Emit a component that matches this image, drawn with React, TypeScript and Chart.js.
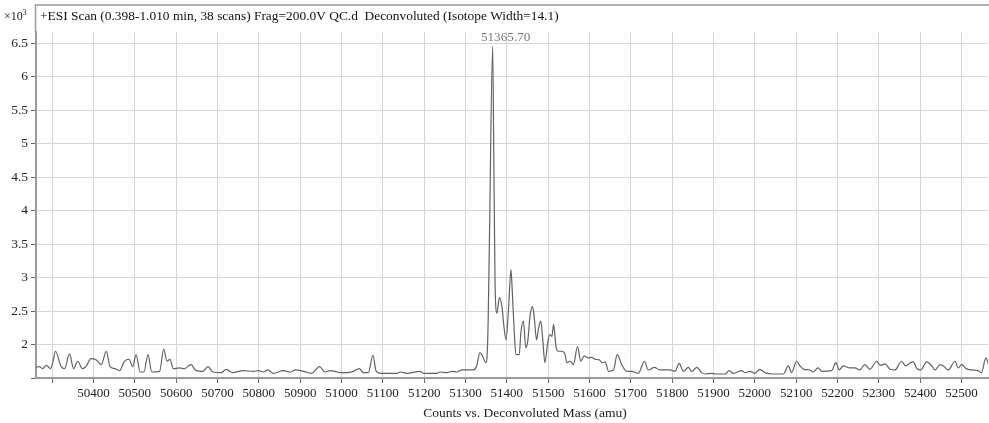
import React, { useEffect, useRef } from "react";
import { Chart, registerables } from "chart.js";

Chart.register(...registerables);

const masses: number[] = [50261,50269,50277,50286,50296,50302,50308,50322,50330,50342,50352,50362,50373,50382,50394,50407,50419,50431,50440,50451,50463,50475,50486,50495,50503,50513,50522,50532,50541,50560,50570,50578,50585,50593,50608,50620,50636,50648,50665,50677,50689,50709,50721,50737,50762,50787,50799,50811,50822,50835,50859,50876,50888,50908,50928,50947,50960,50972,50989,50997,51013,51029,51043,51053,51065,51076,51084,51097,51134,51142,51158,51190,51198,51230,51238,51255,51267,51279,51291,51319,51327,51335,51341,51349,51353,51355,51358,51365.7,51368.5,51371.5,51376,51382,51388,51393,51398,51404,51410,51413,51418,51422,51430,51434,51440,51446,51451,51456,51462,51466,51472,51476,51482,51487,51492,51499,51504,51509,51513,51519,51525,51533,51541,51545,51553,51561,51571,51579,51587,51597,51605,51613,51624,51630,51638,51646,51658,51667,51678,51690,51702,51718,51733,51742,51757,51770,51795,51807,51817,51827,51839,51847,51860,51871,51880,51896,51904,51928,51938,51948,51968,51976,51988,52000,52012,52024,52044,52069,52081,52089,52101,52109,52119,52133,52141,52153,52162,52186,52196,52204,52214,52230,52242,52254,52266,52278,52295,52303,52315,52327,52339,52355,52365,52374,52383,52392,52401,52416,52428,52436,52448,52456,52468,52484,52492,52500,52511,52524,52540,52548,52559,52566];

const counts: number[] = [1.66,1.67,1.64,1.69,1.64,1.74,1.90,1.67,1.64,1.86,1.64,1.75,1.64,1.67,1.79,1.77,1.70,1.90,1.67,1.64,1.61,1.75,1.78,1.67,1.85,1.59,1.59,1.85,1.59,1.60,1.93,1.75,1.78,1.64,1.65,1.64,1.70,1.61,1.60,1.67,1.59,1.58,1.63,1.58,1.61,1.60,1.61,1.59,1.62,1.57,1.61,1.59,1.62,1.60,1.57,1.67,1.59,1.61,1.59,1.58,1.58,1.60,1.64,1.58,1.58,1.84,1.60,1.57,1.57,1.59,1.57,1.60,1.57,1.57,1.59,1.58,1.60,1.59,1.62,1.62,1.68,1.88,1.83,1.73,1.93,2.42,3.6,6.45,4.8,2.92,2.47,2.70,2.57,2.27,2.07,2.52,3.12,2.82,2.18,1.85,1.85,2.18,2.35,1.95,2.07,2.42,2.57,2.42,2.07,2.22,2.35,2.07,1.73,2.03,2.15,2.12,2.30,1.97,1.90,1.90,1.85,1.73,1.75,1.70,1.97,1.75,1.83,1.80,1.81,1.78,1.77,1.73,1.74,1.60,1.62,1.85,1.70,1.60,1.60,1.57,1.75,1.62,1.66,1.62,1.62,1.60,1.72,1.60,1.66,1.60,1.66,1.58,1.56,1.57,1.56,1.56,1.61,1.57,1.61,1.58,1.60,1.57,1.63,1.58,1.56,1.56,1.68,1.58,1.75,1.68,1.63,1.62,1.59,1.65,1.60,1.61,1.73,1.62,1.68,1.65,1.65,1.62,1.70,1.63,1.75,1.69,1.71,1.63,1.62,1.75,1.68,1.72,1.74,1.64,1.62,1.74,1.68,1.62,1.70,1.68,1.62,1.75,1.65,1.70,1.64,1.62,1.61,1.58,1.80,1.68];

const xTickValues: number[] = [50300,50400,50500,50600,50700,50800,50900,51000,51100,51200,51300,51400,51500,51600,51700,51800,51900,52000,52100,52200,52300,52400,52500];
const yTickValues: number[] = [1.5,2,2.5,3,3.5,4,4.5,5,5.5,6,6.5];
const hiddenXLabels: number[] = [50300];
const hiddenYLabels: number[] = [1.5];

const peakMass = 51365.7;
const peakLabel = "51365.70";
const titleText = "+ESI Scan (0.398-1.010 min, 38 scans) Frag=200.0V QC.d  Deconvoluted (Isotope Width=14.1)";
const xAxisTitle = "Counts vs. Deconvoluted Mass (amu)";

const FONT = "'Liberation Serif', 'DejaVu Serif', serif";

export default function App() {
  const ref = useRef<HTMLCanvasElement | null>(null);
  useEffect(() => {
    if (!ref.current) return;
    const points = masses.map((m, i) => ({ x: m, y: counts[i] }));
    const textPlugin = {
      id: "texts",
      beforeDraw(chart: any) {
        const ctx = chart.ctx;
        ctx.save();
        ctx.fillStyle = "#ffffff";
        ctx.fillRect(0, 0, chart.width, chart.height);
        ctx.restore();
      },
      afterDraw(chart: any) {
        const ctx = chart.ctx;
        const area = chart.chartArea;
        const xs = chart.scales.x;
        ctx.save();
        ctx.strokeStyle = "#9a9a9a";
        ctx.lineWidth = 1.5;
        ctx.beginPath();
        ctx.moveTo(area.left - 0.5, area.top);
        ctx.lineTo(area.left - 0.5, 5);
        ctx.lineTo(chart.width, 5);
        ctx.stroke();
        ctx.fillStyle = "#222";
        ctx.textBaseline = "middle";
        ctx.textAlign = "left";
        ctx.font = `12px ${FONT}`;
        ctx.fillText("×10", 4, 17);
        const w = ctx.measureText("×10").width;
        ctx.font = `8px ${FONT}`;
        ctx.fillText("3", 4 + w, 13);
        ctx.font = `13.4px ${FONT}`;
        ctx.fillStyle = "#111";
        ctx.fillText(titleText, 40, 16);
        ctx.fillStyle = "#777";
        ctx.textAlign = "center";
        ctx.font = `13.2px ${FONT}`;
        ctx.fillText(peakLabel, xs.getPixelForValue(peakMass) + 13, 38);
        ctx.fillStyle = "#222";
        ctx.font = `13.5px ${FONT}`;
        ctx.fillText(xAxisTitle, 525, 413);
        ctx.restore();
      },
    };
    const chart = new Chart(ref.current, {
      type: "line",
      data: {
        datasets: [
          {
            data: points,
            borderColor: "#626262",
            borderWidth: 1.2,
            pointRadius: 0,
            fill: false,
            cubicInterpolationMode: "monotone",
          },
        ],
      },
      options: {
        animation: false,
        responsive: false,
        maintainAspectRatio: false,
        layout: { padding: { top: 32, right: 1, left: 0, bottom: 0 } },
        plugins: { legend: { display: false }, tooltip: { enabled: false } },
        scales: {
          x: {
            type: "linear",
            min: 50261,
            max: 52564,
            afterFit: (s: any) => { s.height = 45; },
            afterBuildTicks: (s: any) => { s.ticks = xTickValues.map((v) => ({ value: v })); },
            ticks: {
              autoSkip: false,
              maxRotation: 0,
              padding: 3,
              color: "#222",
              font: { family: FONT, size: 13 },
              callback: (v: any) => (hiddenXLabels.includes(Number(v)) ? "" : String(v)),
            },
            grid: { color: "#d6d6d6", lineWidth: 1, tickLength: 5, tickColor: "#666" },
            border: { color: "#9a9a9a", width: 2 },
          },
          y: {
            type: "linear",
            min: 1.5,
            max: 6.67,
            afterFit: (s: any) => { s.width = 36; },
            afterBuildTicks: (s: any) => { s.ticks = yTickValues.map((v) => ({ value: v })); },
            ticks: {
              autoSkip: false,
              padding: 3,
              color: "#222",
              font: { family: FONT, size: 13.5 },
              callback: (v: any) => (hiddenYLabels.includes(Number(v)) ? "" : String(v)),
            },
            grid: { color: "#d6d6d6", lineWidth: 1, tickLength: 5, tickColor: "#666" },
            border: { color: "#9a9a9a", width: 2 },
          },
        },
      },
      plugins: [textPlugin],
    } as any);
    return () => chart.destroy();
  }, []);
  return (
    <div style={{ position: "fixed", left: 0, top: 0, width: 989, height: 423 }}>
      <canvas ref={ref} width={989} height={423} style={{ width: 989, height: 423 }} />
    </div>
  );
}
